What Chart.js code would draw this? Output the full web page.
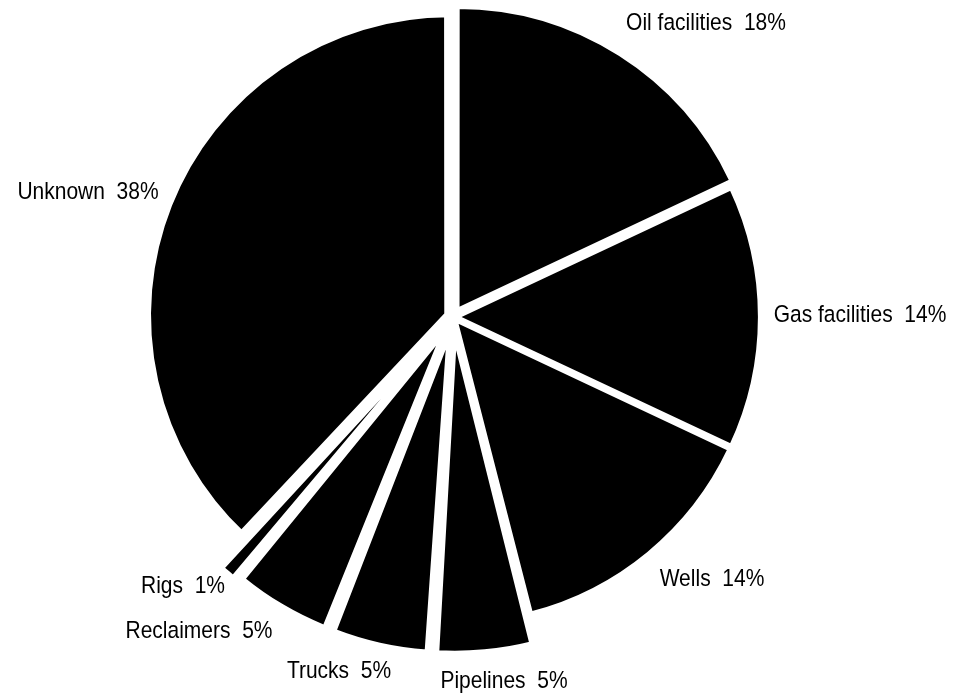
<!DOCTYPE html>
<html>
<head>
<meta charset="utf-8">
<script src="https://cdn.jsdelivr.net/npm/chart.js@4.4.1/dist/chart.umd.min.js"></script>
<style>
  html, body { margin: 0; padding: 0; background: #fff; }
  #wrap { width: 962px; height: 698px; }
</style>
</head>
<body>
<div id="wrap"><canvas id="pieChart"></canvas></div>
<script>
// Incident sources (share of total, %)
const categories = ['Oil facilities', 'Gas facilities', 'Wells', 'Pipelines', 'Trucks', 'Reclaimers', 'Rigs', 'Unknown'];
const shares = [18, 14, 14, 5, 5, 5, 1, 38];

// how far each slice is pulled out of the pie
const explode = [34, 16, 16, 80, 80, 80, 80, 16];
const gapWidth = [4, 4, 4, 4, 4, 4, 4, 10];
// where the label for each slice sits (centre of text)
const labelPos = [[706, 24], [860, 316], [712, 580], [504, 682], [339, 672], [199, 632], [183, 587], [88, 193]];

// draws "Name  NN%" text next to each slice
const sliceLabels = {
  id: 'sliceLabels',
  afterDatasetsDraw(chart) {
    const ctx = chart.ctx;
    chart.data.labels.forEach((name, i) => {
      const v = chart.data.datasets[0].data[i];
      ctx.save();
      ctx.translate(labelPos[i][0], labelPos[i][1]);
      ctx.scale(1, 1.12); // the original type is a bit taller
      ctx.font = '21px "Liberation Sans", Arial, sans-serif';
      ctx.fillStyle = '#000';
      ctx.textAlign = 'center';
      ctx.textBaseline = 'middle';
      ctx.fillText(name + '  ' + v + '%', 0, 0);
      ctx.restore();
    });
  }
};

const pieChart = new Chart(document.getElementById('pieChart'), {
  type: 'pie',
  data: {
    labels: categories,
    datasets: [{
      data: shares,
      backgroundColor: '#000000',
      borderColor: '#ffffff',
      borderWidth: gapWidth,
      offset: explode,
      hoverOffset: 0
    }]
  },
  options: {
    responsive: true,
    maintainAspectRatio: false,
    animation: false,
    radius: 302,
    layout: { padding: { left: 0, right: 56, top: 0, bottom: 64 } },
    plugins: {
      legend: { display: false },
      tooltip: { enabled: false }
    }
  },
  plugins: [sliceLabels]
});
</script>
</body>
</html>
